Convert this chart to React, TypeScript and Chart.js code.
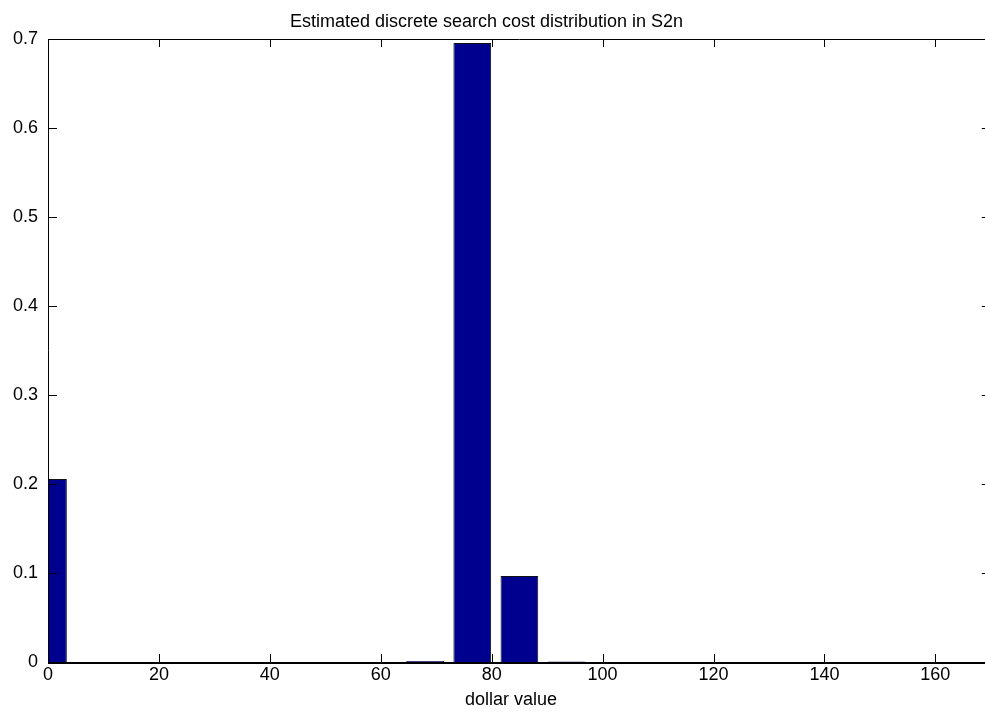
import React, { useEffect, useRef } from "react";
import { Chart, registerables } from "chart.js";

Chart.register(...registerables);

// ---- data ----
const binCenters = [0, 8.5, 17, 25.5, 34, 42.5, 51, 59.5, 68, 76.5, 85, 93.5, 102, 110.5, 119, 127.5, 136, 144.5, 153, 161.5];
const probabilities = [0.2056, 0, 0, 0, 0, 0, 0, 0, 0.0012, 0.6955, 0.0966, 0.0005, 0, 0, 0, 0, 0, 0, 0, 0];
const xTickValues = [0, 20, 40, 60, 80, 100, 120, 140, 160];
const yTickValues = [0, 0.1, 0.2, 0.3, 0.4, 0.5, 0.6, 0.7];
const xRange = [0, 170];
const yRange = [0, 0.7];
const titleText = "Estimated discrete search cost distribution in S2n";
const xLabelText = "dollar value";

const FONT = "'Liberation Sans', Arial, Helvetica, sans-serif";
const CANVAS_W = 1000;
const CANVAS_H = 713;

export default function App() {
  const ref = useRef<HTMLCanvasElement>(null);

  useEffect(() => {
    const canvas = ref.current;
    if (!canvas) return;

    const framePlugin = {
      id: "matlabFrame",
      afterDraw(chart: any) {
        const { ctx, chartArea: a, scales } = chart;
        const xs = scales.x;
        const ys = scales.y;
        ctx.save();
        ctx.strokeStyle = "#000";
        ctx.lineWidth = 1;
        ctx.beginPath();
        for (const v of xTickValues) {
          const px = Math.round(xs.getPixelForValue(v)) + 0.5;
          ctx.moveTo(px, a.bottom);
          ctx.lineTo(px, a.bottom - 8);
          ctx.moveTo(px, a.top);
          ctx.lineTo(px, a.top + 8);
        }
        for (const v of yTickValues) {
          const py = Math.round(ys.getPixelForValue(v)) + 0.5;
          ctx.moveTo(a.left, py);
          ctx.lineTo(a.left + 9, py);
          ctx.moveTo(a.right, py);
          ctx.lineTo(a.right - 9, py);
        }
        ctx.stroke();
        // box
        ctx.beginPath();
        ctx.moveTo(a.left + 0.5, a.bottom);
        ctx.lineTo(a.left + 0.5, a.top + 0.5);
        ctx.lineTo(a.right, a.top + 0.5);
        ctx.lineTo(a.right, a.bottom);
        ctx.stroke();
        // thicker bottom axis
        ctx.lineWidth = 2;
        ctx.beginPath();
        ctx.moveTo(a.left, a.bottom + 1);
        ctx.lineTo(a.right, a.bottom + 1);
        ctx.stroke();
        // texts
        ctx.fillStyle = "#000";
        ctx.font = `18px ${FONT}`;
        ctx.textAlign = "center";
        ctx.textBaseline = "alphabetic";
        ctx.fillText(titleText, 486.5, 26.5);
        ctx.fillText(xLabelText, 511, 705);
        ctx.restore();
      },
    };

    const chart = new Chart(canvas, {
      type: "bar",
      data: {
        labels: binCenters,
        datasets: [
          {
            label: "probability",
            data: binCenters.map((c, i) => ({ x: c, y: probabilities[i] })),
            backgroundColor: "rgb(0,0,143)",
            borderColor: "#111",
            borderWidth: 1,
            barPercentage: 0.8,
            categoryPercentage: 1,
            clip: 0,
          } as any,
        ],
      },
      options: {
        responsive: false,
        animation: false,
        devicePixelRatio: 1,
        layout: { padding: { left: 0, top: 39, right: CANVAS_W - 990.8, bottom: 0 } },
        plugins: {
          legend: { display: false },
          title: { display: false },
          tooltip: { enabled: false },
        },
        scales: {
          x: {
            type: "linear",
            min: xRange[0],
            max: xRange[1],
            offset: false,
            grid: { display: false, drawTicks: false },
            border: { display: false },
            ticks: {
              font: { family: FONT, size: 18 },
              color: "#000",
              padding: 2,
              maxRotation: 0,
              autoSkip: false,
              callback: (v: any) => String(v),
            },
            afterBuildTicks: (s: any) => {
              s.ticks = xTickValues.map((v) => ({ value: v }));
            },
            afterFit: (s: any) => {
              s.height = CANVAS_H - 662;
            },
          },
          y: {
            type: "linear",
            min: yRange[0],
            max: yRange[1],
            grid: { display: false, drawTicks: false },
            border: { display: false },
            ticks: {
              font: { family: FONT, size: 18 },
              color: "#000",
              padding: 10,
              callback: (v: any) => (Number(v) === 0 ? "0" : Number(v).toFixed(1)),
            },
            afterBuildTicks: (s: any) => {
              s.ticks = yTickValues.map((v) => ({ value: v }));
            },
            afterFit: (s: any) => {
              s.width = 48;
            },
          },
        },
      },
      plugins: [framePlugin],
    });

    return () => chart.destroy();
  }, []);

  return (
    <div
      style={{
        position: "fixed",
        left: 0,
        top: 0,
        width: 985,
        height: 713,
        overflow: "hidden",
        background: "#fff",
      }}
    >
      <canvas ref={ref} width={CANVAS_W} height={CANVAS_H} style={{ display: "block", width: CANVAS_W, height: CANVAS_H }} />
    </div>
  );
}
